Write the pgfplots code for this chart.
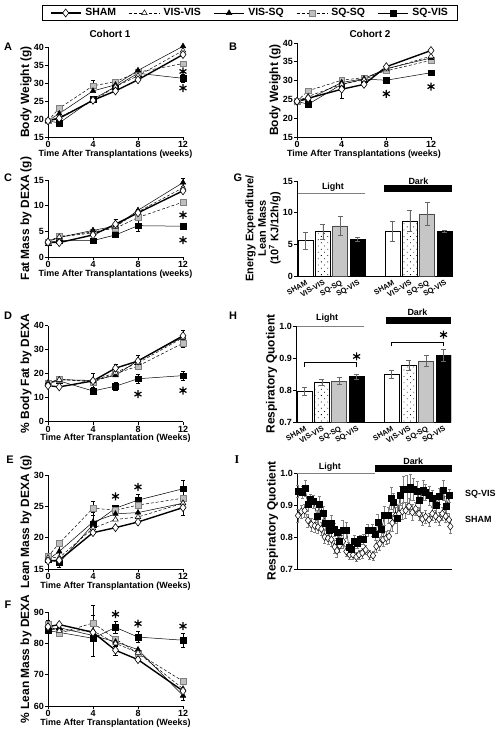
\documentclass[border=0pt]{standalone}
\usepackage{fontspec}
\setmainfont{Liberation Sans}
\newfontfamily\seriffont{Liberation Serif}
\usepackage{pgfplots}
\pgfplotsset{compat=1.18}
\usetikzlibrary{patterns,patterns.meta}
\newcommand{\fs}[1]{\fontsize{#1}{#1}\selectfont}

\pgfplotsset{
  prism/.style={
    scale only axis, clip=false,
    axis x line*=bottom, axis y line*=left,
    axis line style={line width=0.9pt,-},
    tick style={black, line width=0.9pt},
    tick align=outside, major tick length=3bp,
    /pgf/number format/assume math mode=true,
    tick label style={font=\bfseries\fs{9}, inner sep=1bp},
    xlabel style={font=\bfseries\fs{9}, inner sep=1bp},
    ylabel style={font=\bfseries\fs{12}, inner sep=1bp},
  },
  linepanel/.style={prism, width=135bp, xmin=0, xmax=12, xtick={0,4,8,12}},
  barpanel/.style={prism, width=155bp, xmin=-0.49, xmax=8.43,
    xtick={0,1,2,3,5,6,7,8},
    xticklabels={SHAM,VIS-VIS,SQ-SQ,SQ-VIS,SHAM,VIS-VIS,SQ-SQ,SQ-VIS},
    xticklabel style={font=\bfseries\fs{7.5}, inner sep=0.3bp, rotate=30, anchor=north east},
    xtick style={draw=none},
    ybar, bar width=15bp, bar shift=0pt},
  sham/.style={black, line width=1.4pt, mark=diamond*, mark size=4bp, mark options={fill=white, line width=0.6pt, solid}},
  visvis/.style={black, line width=0.5pt, dash pattern=on 3pt off 2pt, mark=triangle*, mark size=3.2bp, mark options={fill=white, solid}},
  vissq/.style={black, line width=0.5pt, mark=triangle*, mark size=3.2bp, mark options={fill=black, solid}},
  sqsq/.style={black, line width=0.5pt, dash pattern=on 3pt off 2pt, mark=square*, mark size=2.8bp, mark options={fill=gray!50, draw=gray, solid}},
  sqvis/.style={black, line width=0.5pt, mark=square*, mark size=2.8bp, mark options={fill=black, solid}},
  ebars/.style={/pgfplots/error bars/y dir=both, /pgfplots/error bars/y explicit,
    /pgfplots/error bars/error bar style={line width=0.5pt, solid},
    /pgfplots/error bars/error mark options={rotate=90, mark size=2bp, line width=0.5pt, solid}},
  gbars/.style={/pgfplots/error bars/y dir=both, /pgfplots/error bars/y explicit,
    /pgfplots/error bars/error bar style={line width=0.5pt, solid, gray!80!black},
    /pgfplots/error bars/error mark options={rotate=90, mark size=2.5bp, line width=0.5pt, solid, gray!80!black}},
  starmark/.style={only marks, mark=asterisk, mark size=4bp, mark options={line width=1.2pt, black}},
  b1/.style={fill=white, draw=black, line width=0.6pt},
  b2/.style={draw=black, line width=0.6pt, pattern={Dots[distance=4.5bp, angle=45, radius=0.55bp]}},
  b3/.style={fill=gray!45, draw=gray!60!black, line width=0.6pt},
  b4/.style={fill=black, draw=black, line width=0.6pt},
}

\begin{document}
\begin{tikzpicture}
\useasboundingbox (0,0) rectangle (499bp,-736bp);

% ---------------- A ----------------
\begin{axis}[linepanel, at={(48bp,-137bp)}, anchor=south west, height=90bp,
  ymin=15, ymax=40, ytick={15,20,25,30,35,40},
  ylabel={Body Weight (g)}, xlabel={Time After Transplantations (weeks)},
  legend style={at={(axis description cs:1.496,1.378)}, anchor=center, legend columns=5,
    draw=black, line width=0.9pt, font=\bfseries\fs{10.5}, inner xsep=8bp, inner ysep=1.5bp,
    /tikz/every odd column/.append style={column sep=2bp},
    /tikz/every even column/.append style={column sep=11bp}},
  legend image code/.code={\draw[mark repeat=2, mark phase=2, #1] plot coordinates {(0bp,0bp) (15bp,0bp) (30bp,0bp)};},
]
\addlegendimage{sham}\addlegendentry{SHAM}
\addlegendimage{visvis}\addlegendentry{VIS-VIS}
\addlegendimage{vissq}\addlegendentry{VIS-SQ}
\addlegendimage{sqsq}\addlegendentry{SQ-SQ}
\addlegendimage{sqvis}\addlegendentry{SQ-VIS}
\addplot[sqvis, forget plot, ebars] coordinates {(0,19.5) (1,18.9) (4,25.5) (6,29.0) (8,32.7) (12,31.3) +- (0,1.0)};
\addplot[sqsq, forget plot, ebars] coordinates {(0,19.5) (1,23.0) (4,29.2) +- (0,1.5) (6,30.4) (8,33.0) (12,35.4)};
\addplot[vissq, forget plot, ebars] coordinates {(0,19.5) (1,21.5) (4,27.8) (6,29.5) (8,33.5) (12,40.2)};
\addplot[visvis, forget plot, ebars] coordinates {(0,19.5) (1,20.5) (4,25.0) (6,29.0) (8,32.0) (12,39.0)};
\addplot[sham, forget plot, ebars] coordinates {(0,19.5) (1,20.2) (4,25.2) (6,27.8) (8,30.9) (12,37.9)};
\addplot[starmark, forget plot] coordinates {(12,33.2) (12,28.6)};
\end{axis}

% ---------------- B ----------------
\begin{axis}[linepanel, at={(297bp,-137bp)}, anchor=south west, width=134bp, height=94bp,
  ymin=15, ymax=40, ytick={15,20,25,30,35,40},
  ylabel={Body Weight (g)}, xlabel={Time After Transplantations (weeks)}]
\addplot[sqvis, ebars] coordinates {(0,24.5) (1,23.7) (4,29.0) (6,30.4) (8,30.1) (12,32.1)};
\addplot[sqsq, ebars] coordinates {(0,24.5) (1,27.3) (4,30.1) (6,30.8) (8,32.6) (12,35.4)};
\addplot[vissq, ebars] coordinates {(0,24.5) (1,25.0) (4,29.5) (6,30.5) (8,33.2) (12,36.0)};
\addplot[visvis, ebars] coordinates {(0,24.5) (1,25.8) (4,29.0) (6,30.2) (8,33.0) (12,36.5)};
\addplot[sham, ebars] coordinates {(0,24.5) (1,25.3) (4,27.7) +- (0,2.5) (6,29.0) (8,33.7) (12,38.0)};
\addplot[starmark] coordinates {(8,26.5) (12,28.4)};
\end{axis}

% ---------------- C ----------------
\begin{axis}[linepanel, at={(48bp,-257bp)}, anchor=south west, height=77bp,
  ymin=0, ymax=15, ytick={0,5,10,15},
  ylabel={Fat Mass by DEXA (g)}, xlabel={Time After Transplantations (weeks)}]
\addplot[sqvis, ebars] coordinates {(0,2.8) (1,3.2) (4,3.2) (6,4.3) (8,6.1) +- (0,1.0) (12,6.0)};
\addplot[sqsq, ebars] coordinates {(0,3.0) (1,4.0) (4,4.9) (6,5.6) (8,7.7) (12,10.7)};
\addplot[vissq, ebars] coordinates {(0,3.0) (1,3.8) (4,5.2) (6,6.0) (8,9.1) (12,14.5) +- (0,0.8)};
\addplot[visvis, ebars] coordinates {(0,3.0) (1,3.9) (4,4.7) (6,5.9) (8,8.8) (12,13.5)};
\addplot[sham, ebars] coordinates {(0,2.9) (1,2.8) (4,4.3) (6,6.4) +- (0,0.9) (8,8.6) +- (0,0.8) (12,12.9)};
\addplot[starmark] coordinates {(12,8.2) (12,3.3)};
\end{axis}

% ---------------- G ----------------
\begin{axis}[barpanel, at={(297bp,-276bp)}, anchor=south west, height=95bp,
  ymin=0, ymax=15, ytick={0,5,10,15},
  ylabel={Energy Expenditure/\\Lean Mass\\(10\textsuperscript{7} KJ/12h/g)},
  ylabel style={align=center, font=\bfseries\fontsize{11}{12.5}\selectfont}]
\addplot[b1, gbars] coordinates {(0,5.6) +- (0,1.3) (5,7.1) +- (0,1.55)};
\addplot[b2, gbars] coordinates {(1,7.0) +- (0,1.2) (6,8.7) +- (0,1.7)};
\addplot[b3, gbars] coordinates {(2,7.9) +- (0,1.5) (7,9.8) +- (0,1.8)};
\addplot[b4, gbars] coordinates {(3,5.8) +- (0,0.3) (8,7.1) +- (0,0.15)};
\draw[gray, line width=1pt] (axis cs:-0.44,13.1) -- (axis cs:3.42,13.1);
\node[font=\bfseries\fs{9}] at (axis cs:1.58,14.1) {Light};
\fill[black] (axis cs:4.52,13.2) rectangle (axis cs:8.43,14.3);
\node[font=\bfseries\fs{9}] at (axis cs:6.5,15.0) {Dark};
\end{axis}

% ---------------- D ----------------
\begin{axis}[linepanel, at={(48bp,-421.7bp)}, anchor=south west, height=96bp,
  ymin=0, ymax=40, ytick={0,10,20,30,40},
  ylabel={\% Body Fat by DEXA}, xlabel={Time After Transplantation (Weeks)}]
\addplot[sqvis, ebars] coordinates {(0,16.0) (1,17.0) (4,12.8) +- (0,1.5) (6,14.8) +- (0,1.5) (8,17.9) +- (0,2.0) (12,19.2) +- (0,2.0)};
\addplot[sqsq, ebars] coordinates {(0,16.0) (1,17.8) +- (0,1.2) (4,16.5) (6,20.0) (8,23.2) (12,32.7) +- (0,1.5)};
\addplot[vissq, ebars] coordinates {(0,16.2) (1,17.5) (4,17.2) +- (0,3.0) (6,19.3) (8,25.5) +- (0,2.0) (12,35.3)};
\addplot[visvis, ebars] coordinates {(0,16.0) (1,17.5) (4,17.0) (6,20.5) (8,24.5) (12,35.0)};
\addplot[sham, ebars] coordinates {(0,15.0) (1,14.5) (4,17.0) (6,22.3) +- (0,1.5) (8,25.3) (12,35.8) +- (0,2.2)};
\addplot[starmark] coordinates {(8,11.5) (12,13.0)};
\end{axis}

% ---------------- H ----------------
\begin{axis}[barpanel, at={(296bp,-422bp)}, anchor=south west, height=96bp, clip=true,
  ymin=0.7, ymax=1.0, ytick={0.7,0.8,0.9,1.0},
  yticklabel style={/pgf/number format/.cd, fixed, fixed zerofill, precision=1},
  ylabel={Respiratory Quotient}]
\addplot[b1, gbars] coordinates {(0,0.7955) +- (0,0.013) (5,0.850) +- (0,0.012)};
\addplot[b2, gbars] coordinates {(1,0.825) +- (0,0.009) (6,0.878) +- (0,0.015)};
\addplot[b3, gbars] coordinates {(2,0.828) +- (0,0.011) (7,0.891) +- (0,0.017)};
\addplot[b4, gbars] coordinates {(3,0.842) +- (0,0.007) (8,0.909) +- (0,0.018)};
\draw[line width=0.7pt] (axis cs:0,0.872) -- (axis cs:0,0.885) -- (axis cs:3,0.885) -- (axis cs:3,0.872);
\draw[line width=0.7pt] (axis cs:5,0.936) -- (axis cs:5,0.950) -- (axis cs:8,0.950) -- (axis cs:8,0.936);
\addplot[starmark] coordinates {(3,0.905) (8,0.973)};
\coordinate (hl1) at (axis cs:-0.44,1.0);
\coordinate (hl2) at (axis cs:3.42,1.0);
\coordinate (hlt) at (axis cs:1.3,1.025);
\coordinate (hd1) at (axis cs:4.7,1.006);
\coordinate (hd2) at (axis cs:8.43,1.028);
\coordinate (hdt) at (axis cs:6.5,1.042);
\end{axis}
\draw[gray, line width=1pt] (hl1) -- (hl2);
\node[font=\bfseries\fs{9}] at (hlt) {Light};
\fill[black] (hd1) rectangle (hd2);
\node[font=\bfseries\fs{9}] at (hdt) {Dark};

% ---------------- E ----------------
\begin{axis}[linepanel, at={(48bp,-569bp)}, anchor=south west, height=94bp,
  ymin=15, ymax=30, ytick={15,20,25,30},
  ylabel={Lean Mass by DEXA (g)}, xlabel={Time After Transplantation (Weeks)}]
\addplot[sqvis, ebars] coordinates {(0,16.5) (1,16.0) +- (0,0.7) (4,22.1) (6,24.7) (8,26.0) +- (0,1.0) (12,27.8) +- (0,1.4)};
\addplot[sqsq, ebars] coordinates {(0,17.0) (1,19.1) (4,24.7) +- (0,1.1) (6,24.4) (8,25.2) (12,26.3)};
\addplot[vissq, ebars] coordinates {(0,16.5) (1,17.8) +- (0,1.6) (4,22.5) +- (0,1.5) (6,23.8) (8,24.0) (12,25.5)};
\addplot[visvis, ebars] coordinates {(0,16.8) (1,16.8) (4,21.5) (6,22.9) (8,23.3) (12,25.5)};
\addplot[sham, ebars] coordinates {(0,16.3) (1,16.4) (4,20.8) (6,21.6) (8,22.5) (12,24.8) +- (0,1.3)};
\addplot[starmark] coordinates {(6,26.6) (8,28.1)};
\end{axis}

% ---------------- I ----------------
\begin{axis}[prism, at={(297bp,-569bp)}, anchor=south west, width=155bp, height=96bp,
  xmin=0, xmax=24, xtick=\empty,
  ymin=0.7, ymax=1.0, ytick={0.7,0.8,0.9,1.0},
  yticklabel style={/pgf/number format/.cd, fixed, fixed zerofill, precision=1},
  ylabel={Respiratory Quotient}]
\addplot[gray!60!black, line width=0.5pt, mark=diamond*, mark size=3.6bp, mark options={fill=white, draw=black, line width=0.5pt},
  /pgfplots/error bars/y dir=both, /pgfplots/error bars/y explicit,
  /pgfplots/error bars/error bar style={line width=0.4pt, gray},
  /pgfplots/error bars/error mark options={rotate=90, mark size=1.5bp, gray}]
 coordinates {(0.15,0.867) +- (0,0.02) (0.67,0.880) +- (0,0.02) (1.19,0.883) +- (0,0.02) (1.70,0.852) +- (0,0.02)
 (2.22,0.839) +- (0,0.02) (2.74,0.835) +- (0,0.02) (3.25,0.831) +- (0,0.02) (3.77,0.825) +- (0,0.02)
 (4.28,0.800) +- (0,0.02) (4.80,0.796) +- (0,0.02) (5.32,0.792) +- (0,0.02) (5.83,0.769) +- (0,0.02)
 (6.19,0.757) +- (0,0.02) (6.61,0.773) +- (0,0.02) (7.12,0.786) +- (0,0.02) (7.64,0.755) +- (0,0.015)
 (8.15,0.745) +- (0,0.015) (8.67,0.745) +- (0,0.015) (9.19,0.738) +- (0,0.015) (9.60,0.745) +- (0,0.015)
 (10.12,0.750) +- (0,0.015) (10.63,0.760) +- (0,0.015) (11.25,0.745) +- (0,0.015) (11.77,0.742) +- (0,0.015)
 (12.28,0.771) +- (0,0.02) (12.80,0.779) +- (0,0.02) (13.32,0.792) +- (0,0.02) (13.83,0.797) +- (0,0.02)
 (14.24,0.802) +- (0,0.02) (14.76,0.844) +- (0,0.025) (15.28,0.867) +- (0,0.025) (15.79,0.873) +- (0,0.025)
 (16.31,0.880) +- (0,0.025) (16.83,0.883) +- (0,0.025) (17.34,0.896) +- (0,0.025) (17.86,0.877) +- (0,0.025)
 (18.37,0.888) +- (0,0.02) (18.89,0.873) +- (0,0.02) (19.41,0.856) +- (0,0.02) (19.92,0.863) +- (0,0.02)
 (20.44,0.854) +- (0,0.02) (20.95,0.873) +- (0,0.02) (21.47,0.865) +- (0,0.02) (21.99,0.856) +- (0,0.02)
 (22.50,0.873) +- (0,0.02) (23.02,0.865) +- (0,0.02) (23.53,0.854) +- (0,0.02) (23.74,0.833) +- (0,0.02)};
\addplot[black, line width=0.5pt, mark=square*, mark size=3bp, mark options={fill=black},
  /pgfplots/error bars/y dir=both, /pgfplots/error bars/y explicit,
  /pgfplots/error bars/error bar style={line width=0.4pt, gray},
  /pgfplots/error bars/error mark options={rotate=90, mark size=1.5bp, gray}]
 coordinates {(0.15,0.943) +- (0,0.02) (0.83,0.940) +- (0,0.02) (1.24,0.953) +- (0,0.025) (1.70,0.901) +- (0,0.02)
 (2.12,0.919) +- (0,0.015) (2.58,0.911) +- (0,0.02) (3.10,0.865) +- (0,0.02) (3.51,0.901) +- (0,0.025)
 (4.03,0.875) +- (0,0.02) (4.44,0.844) +- (0,0.02) (4.95,0.821) +- (0,0.02) (5.32,0.844) +- (0,0.025)
 (5.83,0.823) +- (0,0.02) (6.19,0.815) +- (0,0.02) (6.61,0.786) +- (0,0.02) (7.12,0.821) +- (0,0.03)
 (7.64,0.821) +- (0,0.025) (8.05,0.769) +- (0,0.015) (8.41,0.763) +- (0,0.015) (8.93,0.786) +- (0,0.02)
 (9.29,0.779) +- (0,0.015) (9.81,0.792) +- (0,0.015) (10.32,0.794) +- (0,0.015) (10.99,0.821) +- (0,0.02)
 (11.66,0.821) +- (0,0.02) (12.18,0.810) +- (0,0.02) (12.54,0.846) +- (0,0.025) (13.06,0.823) +- (0,0.02)
 (13.57,0.867) +- (0,0.03) (14.09,0.867) +- (0,0.025) (14.61,0.922) +- (0,0.035) (14.97,0.908) +- (0,0.03)
 (15.48,0.858) +- (0,0.045) (16.00,0.930) +- (0,0.03) (16.52,0.950) +- (0,0.04) (17.03,0.948) +- (0,0.045)
 (17.55,0.955) +- (0,0.04) (18.06,0.950) +- (0,0.035) (18.58,0.943) +- (0,0.03) (19.00,0.914) +- (0,0.03)
 (19.51,0.946) +- (0,0.03) (19.92,0.940) +- (0,0.025) (20.44,0.929) +- (0,0.03) (20.95,0.922) +- (0,0.025)
 (21.57,0.898) +- (0,0.03) (22.09,0.927) +- (0,0.025) (22.61,0.946) +- (0,0.03) (23.12,0.896) +- (0,0.03)
 (23.64,0.930) +- (0,0.02)};
\draw[gray, line width=1pt] (axis cs:0,1.0) -- (axis cs:12,1.0);
\node[font=\bfseries\fs{9}] at (axis cs:5.1,1.019) {Light};
\fill[black] (axis cs:12,1.003) rectangle (axis cs:24,1.025);
\node[font=\bfseries\fs{9}] at (axis cs:18,1.037) {Dark};
\node[font=\bfseries\fs{9}, anchor=west] at (axis cs:25.5,0.934) {SQ-VIS};
\node[font=\bfseries\fs{9}, anchor=west] at (axis cs:25.5,0.856) {SHAM};
\end{axis}

% ---------------- F ----------------
\begin{axis}[linepanel, at={(48bp,-706bp)}, anchor=south west, height=94bp,
  ymin=60, ymax=90, ytick={60,70,80,90},
  ylabel={\% Lean Mass by DEXA}, xlabel={Time After Transplantation (Weeks)}]
\addplot[sqvis, ebars] coordinates {(0,84.0) (1,83.5) (4,81.6) (6,85.1) +- (0,2.0) (8,82.0) +- (0,1.8) (12,81.0) +- (0,2.2)};
\addplot[sqsq, ebars] coordinates {(0,86.0) +- (0,1.5) (1,83.2) (4,86.5) +- (0,2.5) (6,81.4) (8,76.8) (12,67.9)};
\addplot[vissq, ebars] coordinates {(0,84.0) (1,85.0) (4,82.5) (6,80.5) +- (0,1.5) (8,78.0) (12,63.3) +- (0,1.5)};
\addplot[visvis, ebars] coordinates {(0,85.5) (1,84.0) (4,84.0) +- (0,8.0) (6,80.0) (8,77.0) (12,65.5)};
\addplot[sham, ebars] coordinates {(0,85.3) (1,86.0) (4,83.5) (6,77.8) +- (0,1.5) (8,74.8) (12,64.8)};
\addplot[starmark] coordinates {(6,89.3) (8,86.3) (12,85.5)};
\end{axis}

% ---------------- panel letters and titles ----------------
\node[font=\bfseries\fs{11}] at (8bp,-47bp) {A};
\node[font=\bfseries\fs{11}] at (233bp,-47bp) {B};
\node[font=\bfseries\fs{11}] at (8bp,-178bp) {C};
\node[font=\bfseries\fs{11}] at (238bp,-178bp) {G};
\node[font=\bfseries\fs{11}] at (8bp,-316bp) {D};
\node[font=\bfseries\fs{11}] at (233bp,-316bp) {H};
\node[font=\bfseries\fs{11}] at (10bp,-460bp) {E};
\node[font=\seriffont\bfseries\fs{12}] at (237bp,-460bp) {I};
\node[font=\bfseries\fs{11}] at (8bp,-605bp) {F};
\node[font=\bfseries\fs{10}] at (110bp,-34bp) {Cohort 1};
\node[font=\bfseries\fs{10}] at (370bp,-34bp) {Cohort 2};
\end{tikzpicture}
\end{document}
